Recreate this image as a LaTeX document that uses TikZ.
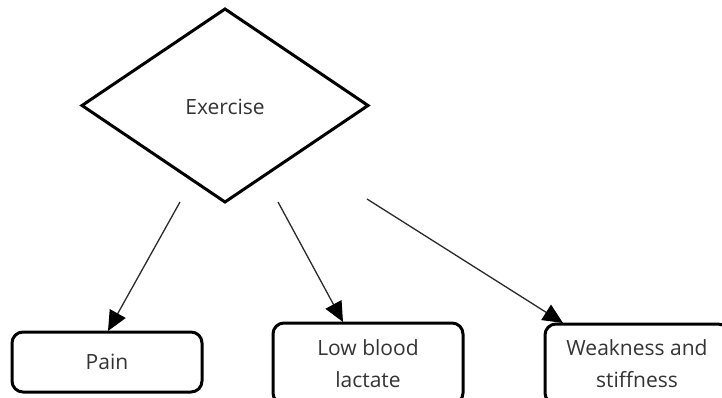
\documentclass[tikz,border=0pt]{standalone}
\usepackage{fontspec}
\setmainfont{Open Sans}
\usetikzlibrary{shapes.geometric,arrows.meta}
\definecolor{txt}{HTML}{333333}
\definecolor{arr}{HTML}{2a2a2a}
\tikzset{
  lbl/.style={text=txt,font=\fontsize{21}{32}\selectfont,align=center},
  outbox/.style={draw=black,line width=3pt,rounded corners=11pt},
  conn/.style={draw=arr,line width=1.3pt,-{Triangle[length=20pt,width=18pt,color=black]}}
}
\begin{document}
\begin{tikzpicture}[x=1pt,y=-1pt]
\useasboundingbox (0,0) rectangle (722,398);
\clip (0,0) rectangle (722,398);
% diamond
\draw[line width=3pt,line join=miter] (225,9) -- (368,105.5) -- (225,202) -- (82,105.5) -- cycle;
\node[lbl] (ex) at (225,107) {Exercise};
% boxes
\draw[outbox] (12,332) rectangle (202,392);
\node[lbl] (pain) at (107,362) {Pain};
\draw[outbox] (273,323) rectangle (463,404);
\node[lbl] (low) at (368,364) {Low blood\\lactate};
\draw[outbox] (545,324) rectangle (729,404);
\node[lbl] (weak) at (637,364) {Weakness and\\stiffness};
% connector anchors
\coordinate (s1) at (180,202);
\coordinate (t1) at (108,331);
\coordinate (s2) at (278,202);
\coordinate (t2) at (343,322);
\coordinate (s3) at (367,199);
\coordinate (t3) at (563,323);
\draw[conn] (s1) -- (t1);
\draw[conn] (s2) -- (t2);
\draw[conn] (s3) -- (t3);
\end{tikzpicture}
\end{document}
